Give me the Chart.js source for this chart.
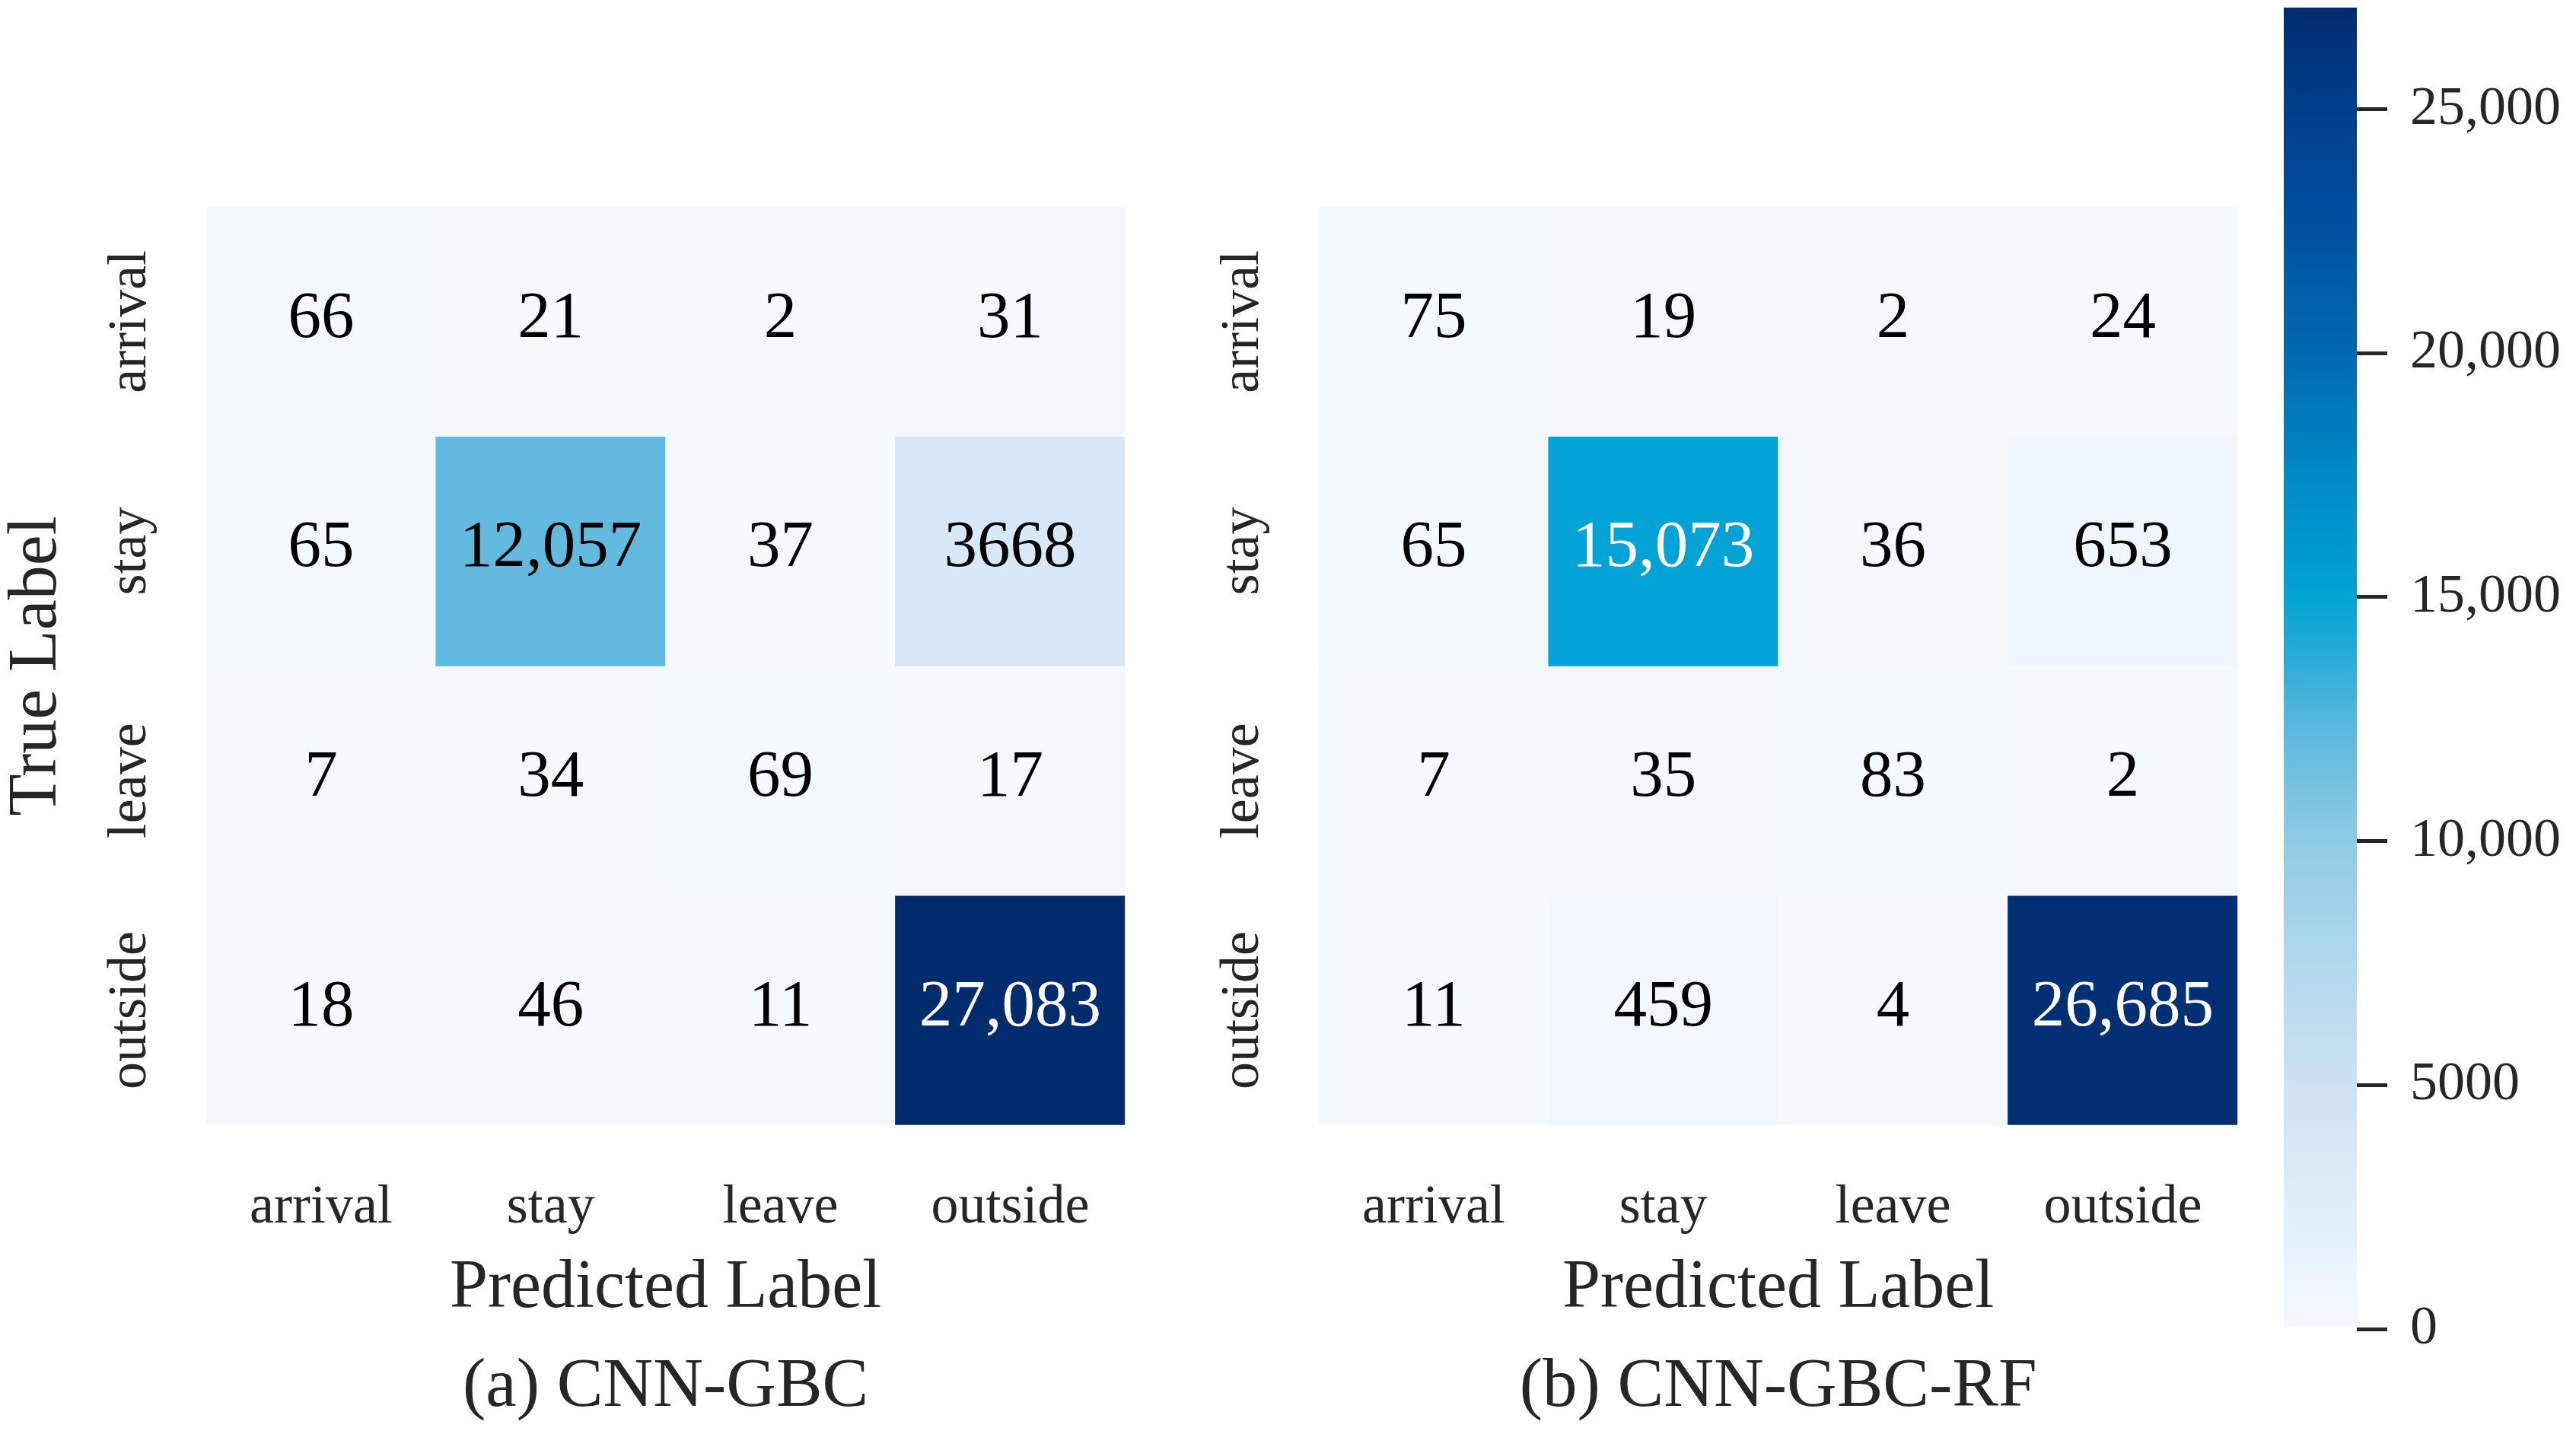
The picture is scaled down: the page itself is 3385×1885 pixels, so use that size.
<!DOCTYPE html>
<html>
<head>
<meta charset="utf-8">
<script src="https://cdn.jsdelivr.net/npm/chart.js@4.4.1/dist/chart.umd.min.js"></script>
<style>
  html, body { margin: 0; padding: 0; background: #fff; }
  body { width: 3385px; height: 1885px; position: relative; overflow: hidden; }
  .box { position: absolute; top: 0; height: 1885px; }
</style>
</head>
<body>
<div class="box" style="left:0;width:1500px"><canvas id="cmA"></canvas></div>
<div class="box" style="left:1462px;width:1500px"><canvas id="cmB"></canvas></div>
<div class="box" style="left:2990px;width:395px"><canvas id="cbar"></canvas></div>
<script>
// labels (true rows / predicted columns)
const labels = ["arrival", "stay", "leave", "outside"];

// confusion matrices, rows = true label
const matrixA = [
    [66, 21, 2, 31],
    [65, 12057, 37, 3668],
    [7, 34, 69, 17],
    [18, 46, 11, 27083]
];
const matrixB = [
    [75, 19, 2, 24],
    [65, 15073, 36, 653],
    [7, 35, 83, 2],
    [11, 459, 4, 26685]
];

const colorbarTicks = [0, 5000, 10000, 15000, 20000, 25000];
const titleA = "(a) CNN-GBC";
const titleB = "(b) CNN-GBC-RF";

// max of both matrices -> top of the colour scale
const vmax = Math.max(...matrixA.flat(), ...matrixB.flat());

// colour map (light -> cyan -> navy)
const cmap = [
    [0.00, "#f5f9fe"],
    [0.10, "#e0edf8"],
    [0.185, "#cde2f3"],
    [0.30, "#a9d5ea"],
    [0.37, "#8ecbe3"],
    [0.445, "#62bbdf"],
    [0.50, "#33add9"],
    [0.554, "#00a4d3"],
    [0.65, "#0088c2"],
    [0.74, "#0069b0"],
    [0.85, "#004d9b"],
    [0.923, "#003e8c"],
    [1.00, "#002c6e"]
];

const textColor = "#262626";
Chart.defaults.font.family = '"Liberation Serif", "Times New Roman", serif';
Chart.defaults.color = textColor;

function hexRgb(h) {
    return [1, 3, 5].map(i => parseInt(h.slice(i, i + 2), 16));
}

function colorFor(t) {
    t = Math.max(0, Math.min(1, t));
    for (let k = 1; k < cmap.length; k++) {
        if (t <= cmap[k][0]) {
            const [t0, c0] = cmap[k - 1];
            const [t1, c1] = cmap[k];
            const f = (t - t0) / (t1 - t0);
            const a = hexRgb(c0), b = hexRgb(c1);
            return "rgb(" + a.map((v, i) => Math.round(v + (b[i] - v) * f)).join(",") + ")";
        }
    }
    return cmap[cmap.length - 1][1];
}

// 3668 stays plain, 12,057 gets a comma (matplotlib style)
function fmt(v) {
    return v >= 10000 ? v.toLocaleString("en-US") : String(v);
}

// draws the rotated row labels and the numbers in each cell
const cellPlugin = {
    id: "cellText",
    afterDatasetsDraw(chart) {
        const ctx = chart.ctx;
        const y = chart.scales.y;
        ctx.save();
        ctx.font = '72px "Liberation Serif", "Times New Roman", serif';
        ctx.fillStyle = textColor;
        ctx.textAlign = "center";
        ctx.textBaseline = "alphabetic";
        labels.forEach((lab, i) => {
            ctx.save();
            ctx.translate(chart.chartArea.left - 80, y.getPixelForValue(i + 0.5));
            ctx.rotate(-Math.PI / 2);
            ctx.fillText(lab, 0, 0);
            ctx.restore();
        });

        ctx.font = '87px "Liberation Serif", "Times New Roman", serif';
        ctx.textBaseline = "middle";
        chart.data.datasets.forEach((ds, i) => {
            chart.getDatasetMeta(i).data.forEach((bar, j) => {
                const v = ds.values[j];
                const p = bar.getCenterPoint();
                ctx.fillStyle = v / vmax > 0.5 ? "#ffffff" : "#000000";
                ctx.fillText(fmt(v), p.x, p.y - 3);
            });
        });
        ctx.restore();
    }
};

function makeMatrix(id, matrix, title, showYTitle) {
    const datasets = matrix.map((row, i) => ({
        label: labels[i],
        data: row.map(() => 1),
        values: row,
        backgroundColor: row.map(v => colorFor(v / vmax)),
        borderWidth: 0,
        barPercentage: 1,
        categoryPercentage: 1
    }));

    return new Chart(document.getElementById(id), {
        type: "bar",
        data: { labels: labels, datasets: datasets },
        options: {
            responsive: true,
            maintainAspectRatio: false,
            animation: false,
            layout: { padding: { top: 272, right: 21, left: 0, bottom: 0 } },
            plugins: {
                legend: { display: false },
                tooltip: { enabled: false },
                title: {
                    display: true,
                    text: title,
                    position: "bottom",
                    fullSize: false,
                    color: textColor,
                    font: { size: 91, weight: "normal", lineHeight: 1.2 },
                    padding: { top: 0, bottom: 6 }
                }
            },
            scales: {
                x: {
                    stacked: true,
                    grid: { display: false, drawTicks: false },
                    border: { display: false },
                    ticks: { font: { size: 72 }, color: textColor, padding: 66, maxRotation: 0 },
                    title: {
                        display: true,
                        text: "Predicted Label",
                        color: textColor,
                        font: { size: 90, lineHeight: 1.2 },
                        padding: { top: 0, bottom: 21 }
                    },
                    afterFit: s => { s.height = 291; }
                },
                y: {
                    stacked: true,
                    min: 0,
                    max: 4,
                    reverse: true,
                    grid: { display: false, drawTicks: false },
                    border: { display: false },
                    ticks: { display: false },
                    title: {
                        display: showYTitle,
                        text: "True Label",
                        color: textColor,
                        font: { size: 90, lineHeight: 1.1 },
                        padding: 0
                    },
                    afterFit: s => { s.width = 271; }
                }
            }
        },
        plugins: [cellPlugin]
    });
}

makeMatrix("cmA", matrixA, titleA, true);
makeMatrix("cmB", matrixB, titleB, false);

// colour bar
new Chart(document.getElementById("cbar"), {
    type: "bar",
    data: {
        labels: [""],
        datasets: [{
            data: [[0, vmax]],
            backgroundColor: c => {
                const chart = c.chart;
                if (!chart.chartArea) return cmap[0][1];
                const y = chart.scales.y;
                const g = chart.ctx.createLinearGradient(0, y.getPixelForValue(0), 0, y.getPixelForValue(vmax));
                cmap.forEach(([t, col]) => g.addColorStop(t, col));
                return g;
            },
            borderWidth: 0,
            barPercentage: 1,
            categoryPercentage: 1
        }]
    },
    options: {
        responsive: true,
        maintainAspectRatio: false,
        animation: false,
        layout: { padding: { top: 10, bottom: 138, left: 11, right: 0 } },
        plugins: { legend: { display: false }, tooltip: { enabled: false } },
        scales: {
            x: { display: false },
            y: {
                position: "right",
                min: 0,
                max: vmax,
                grid: { drawOnChartArea: false, drawTicks: true, tickLength: 40, lineWidth: 5, color: textColor },
                border: { display: false },
                ticks: { font: { size: 72 }, color: textColor, padding: 30, callback: v => fmt(v) },
                afterBuildTicks: s => { s.ticks = colorbarTicks.map(v => ({ value: v })); },
                afterFit: s => { s.width = 288; s.paddingTop = 0; s.paddingBottom = 0; }
            }
        }
    }
});
</script>
</body>
</html>
